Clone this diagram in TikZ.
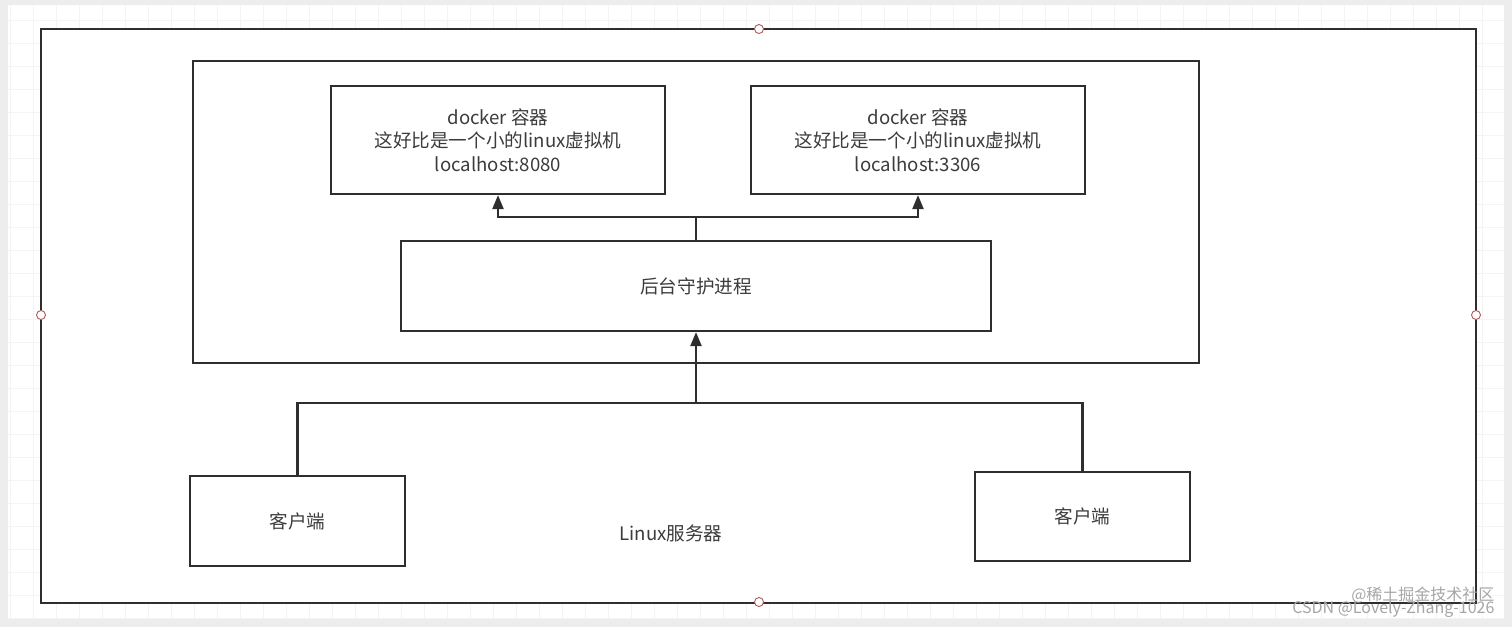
\documentclass[tikz,border=0pt]{standalone}
\usepackage{fontspec}
\newfontfamily\cjk{Noto Sans CJK SC}
\usetikzlibrary{arrows.meta}

\definecolor{linegray}{HTML}{2E2E2E}
\definecolor{textgray}{HTML}{3C3C3C}
\definecolor{canvasgray}{HTML}{EDEDED}
\definecolor{gridgray}{HTML}{F4F4F4}
\definecolor{handlered}{HTML}{B05A5A}

\begin{document}
\begin{tikzpicture}[x=1pt,y=-1pt,
  box/.style={draw=linegray,line width=2.2pt,fill=white,inner sep=0pt},
  txt/.style={font=\cjk\fontsize{18.6}{23.5}\selectfont,text=textgray,align=center},
  link/.style={draw=linegray,line width=2.2pt},
  tip/.style={-{Triangle[length=14pt,width=11pt]}},
  handle/.style={draw=handlered,fill=white,line width=0.9pt}]
\useasboundingbox (0,0) rectangle (1512,627);

%background
\fill[canvasgray] (0,0) rectangle (1512,627);
\fill[white] (8,5) rectangle (1504,618);
\foreach \gx in {10,33,...,1504} \draw[gridgray,line width=0.8pt] (\gx,5)--(\gx,618);
\foreach \gy in {20,43,...,618} \draw[gridgray,line width=0.8pt] (8,\gy)--(1504,\gy);

%element
\draw[box] (41,29) rectangle (1476,603);
\draw[box] (193,61) rectangle (1199,363);

\node[box,txt,minimum width=334pt,minimum height=108pt] (docker1) at (498,140)
  {docker 容器\\这好比是一个小的linux虚拟机\\localhost:8080};
\node[box,txt,minimum width=334pt,minimum height=108pt] (docker2) at (918,140)
  {docker 容器\\这好比是一个小的linux虚拟机\\localhost:3306};
\node[box,txt,minimum width=590pt,minimum height=90pt] (daemon) at (696,286) {后台守护进程};
\node[box,txt,minimum width=215pt,minimum height=90pt] (client1) at (297.5,521) {客户端};
\node[box,txt,minimum width=215pt,minimum height=89pt] (client2) at (1082.5,516.5) {客户端};
\node[txt] (server) at (671,533) {Linux服务器};

%arrows
\coordinate (split) at (696,217);
\coordinate (join) at (696,403);
\draw[link] (daemon.north) -- (split);
\draw[link,tip] (split) -| (docker1.south);
\draw[link,tip] (split) -| (docker2.south);
\draw[link] (client1.north) |- (join);
\draw[link] (client2.north) |- (join);
\draw[link,tip] (join) -- (daemon.south);

%handles
\draw[handle] (759,29) circle (4.5pt);
\draw[handle] (41,315) circle (4.5pt);
\draw[handle] (1476,315) circle (4.5pt);
\draw[handle] (759,602) circle (4.5pt);

%watermark
\node[font=\cjk\fontsize{16}{16}\selectfont,text=gray!70,anchor=east] (mark1) at (1498,595) {@稀土掘金技术社区};
\node[font=\cjk\fontsize{16}{16}\selectfont,text=gray!70,anchor=east] (mark2) at (1498,609) {CSDN @Lovely-Zhang-1026};

\end{tikzpicture}
\end{document}
